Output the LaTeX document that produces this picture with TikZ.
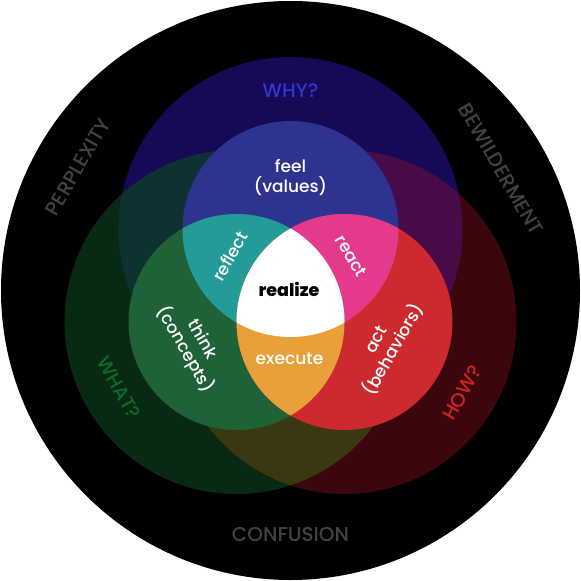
\documentclass[tikz,border=0pt]{standalone}
\usepackage{fontspec}
\setmainfont{Poppins}[UprightFont={* Medium}]
\definecolor{cBo}{HTML}{140A55}
\definecolor{cGo}{HTML}{082A12}
\definecolor{cRo}{HTML}{3C070C}
\definecolor{cBGo}{HTML}{0E3131}
\definecolor{cBRo}{HTML}{460B48}
\definecolor{cGRo}{HTML}{3A3810}
\definecolor{cBi}{HTML}{2E3390}
\definecolor{cGi}{HTML}{1F6238}
\definecolor{cRi}{HTML}{CC2A2E}
\definecolor{cBG}{HTML}{239B99}
\definecolor{cBR}{HTML}{E33A8C}
\definecolor{cGR}{HTML}{E8A03A}
\definecolor{cWhy}{HTML}{3434D6}
\definecolor{cWhat}{HTML}{0A6B2C}
\definecolor{cHow}{HTML}{D0202A}
\definecolor{cGray}{HTML}{424242}
\tikzset{
  lbl/.style={text=white, font=\fontsize{17}{20}\selectfont, align=center, inner sep=0pt},
  outer/.style={font=\fontsize{19.5}{22}\selectfont, inner sep=0pt},
  rim/.style={text=cGray, font=\fontsize{20}{22}\selectfont, inner sep=0pt}
}
\begin{document}
\begin{tikzpicture}[x=1pt,y=-1pt]
\useasboundingbox (0,0) rectangle (581,581);
\fill[white] (0,0) rectangle (581,581);
\fill[black] (290.5,290.5) circle (289.5pt);
\coordinate (B) at (290.5,229);
\coordinate (G) at (236.5,322);
\coordinate (R) at (344.5,322);
% big circles
\fill[cBo] (B) circle (172pt);
\fill[cGo] (G) circle (172pt);
\fill[cRo] (R) circle (172pt);
\begin{scope}\clip (B) circle (172pt); \fill[cBGo] (G) circle (172pt);\end{scope}
\begin{scope}\clip (B) circle (172pt); \fill[cBRo] (R) circle (172pt);\end{scope}
\begin{scope}\clip (G) circle (172pt); \fill[cGRo] (R) circle (172pt);\end{scope}
% inner circles
\fill[cBi] (B) circle (108pt);
\fill[cGi] (G) circle (108pt);
\fill[cRi] (R) circle (108pt);
\begin{scope}\clip (B) circle (108pt); \fill[cBG] (G) circle (108pt);\end{scope}
\begin{scope}\clip (B) circle (108pt); \fill[cBR] (R) circle (108pt);\end{scope}
\begin{scope}\clip (G) circle (108pt); \fill[cGR] (R) circle (108pt);\end{scope}
\begin{scope}\clip (B) circle (108pt); \clip (G) circle (108pt); \fill[white] (R) circle (108pt);\end{scope}
% labels
\node[lbl] (feel) at (290.5,178) {feel\\(values)};
\node[lbl, rotate=60] (reflect) at (230,256) {reflect};
\node[lbl, rotate=-60] (react) at (351,256) {react};
\node[lbl, text=black, font=\fontsize{17.5}{20}\selectfont\bfseries] (realize) at (289,289.5) {realize};
\node[lbl] (execute) at (289.5,359) {execute};
\node[lbl, rotate=-60] (think) at (193,345) {think\\(concepts)};
\node[lbl, rotate=60] (act) at (386,345) {act\\(behaviors)};
\node[outer, text=cWhy] (why) at (290.5,91) {WHY?};
\node[outer, text=cWhat, rotate=-60] (what) at (119,388) {WHAT?};
\node[outer, text=cHow, rotate=60] (how) at (462,393) {HOW?};
\node[rim, rotate=60] (perp) at (78,167) {PERPLEXITY};
\node[rim, rotate=-60] (bew) at (501,169) {BEWILDERMENT};
\node[rim] (conf) at (290.5,534.5) {CONFUSION};
\end{tikzpicture}
\end{document}
